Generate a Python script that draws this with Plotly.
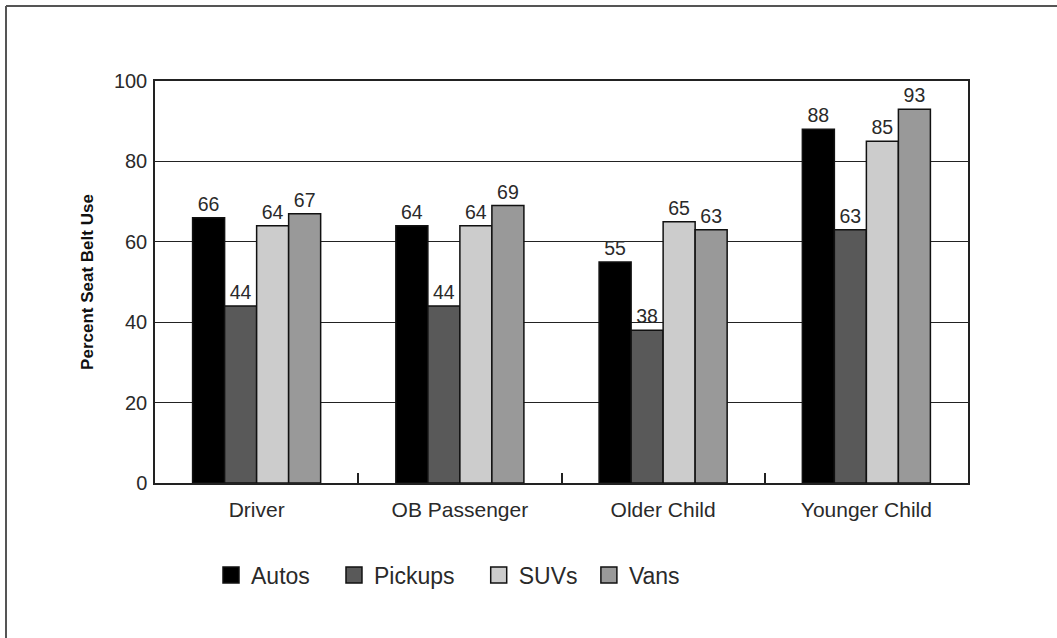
import plotly.graph_objects as go

categories = ["Driver", "OB Passenger", "Older Child", "Younger Child"]
series_names = ["Autos", "Pickups", "SUVs", "Vans"]
autos = [66, 64, 55, 88]
pickups = [44, 44, 38, 63]
suvs = [64, 64, 65, 85]
vans = [67, 69, 63, 93]
y_ticks = [0, 20, 40, 60, 80, 100]

values = [autos, pickups, suvs, vans]
colors = ["#000000", "#595959", "#cccccc", "#999999"]

FONT = "Liberation Sans, Arial, sans-serif"
TXT = "#2a2a2a"
fig = go.Figure()
for name, vals, col in zip(series_names, values, colors):
    fig.add_trace(go.Bar(
        x=categories, y=vals, name=name, showlegend=False,
        marker=dict(color=col, line=dict(color="#111111", width=1.5)),
        text=vals, textposition="outside",
        textfont=dict(family=FONT, size=19.5, color=TXT),
        cliponaxis=False,
    ))
pads = ["\u00a0" * 3, "\u00a0" * 3, "\u00a0", ""]
for name, col, pad in zip(series_names, colors, pads):
    fig.add_trace(go.Scatter(
        x=[None], y=[None], mode="markers", name=name + pad,
        marker=dict(symbol="square", size=22, color=col,
                    line=dict(color="#111111", width=1.5)),
    ))

W, H = 1057, 638
L, R, T, B = 155, 968, 81, 483
pw, ph = R - L, B - T

def px(x):
    return (x - L) / pw

def py(y):
    return (B - y) / ph

fig.update_layout(
    width=W, height=H,
    margin=dict(l=L, r=W - R, t=T, b=H - B, pad=0),
    paper_bgcolor="white", plot_bgcolor="white",
    barmode="group", bargap=0.37, bargroupgap=0.0,
    font=dict(family=FONT, color=TXT, size=19),
    showlegend=True,
    legend=dict(orientation="h", x=px(211), y=py(575), xanchor="left", yanchor="middle",
                font=dict(family=FONT, size=23, color=TXT),
                itemwidth=30, tracegroupgap=0, bgcolor="rgba(0,0,0,0)"),
    shapes=[
        dict(type="line", xref="paper", yref="paper", x0=px(6), x1=px(6), y0=py(6), y1=py(640),
             line=dict(color="#555555", width=2)),
        dict(type="line", xref="paper", yref="paper", x0=px(6), x1=px(1060), y0=py(6), y1=py(6),
             line=dict(color="#555555", width=2)),
    ],
)
fig.update_xaxes(
    showline=True, linecolor="#222222", linewidth=1.5, mirror=True,
    showgrid=False, tickson="boundaries", ticks="inside", ticklen=10,
    tickcolor="#222222", tickwidth=1.5,
    tickfont=dict(family=FONT, size=21, color=TXT),
    ticklabelstandoff=7,
)
fig.update_yaxes(
    range=[0, 100], tickvals=y_ticks,
    showline=True, linecolor="#222222", linewidth=1.5, mirror=True,
    showgrid=True, gridcolor="#222222", gridwidth=1.2,
    zeroline=False, ticks="",
    tickfont=dict(family=FONT, size=20, color=TXT),
    ticklabelstandoff=2,
    title=dict(text="<b>Percent Seat Belt Use</b>", standoff=16,
               font=dict(family=FONT, size=17, color="#111111")),
)

fig.write_html("out.html", config={"displayModeBar": False},
               post_script="document.body.style.margin='0';")
